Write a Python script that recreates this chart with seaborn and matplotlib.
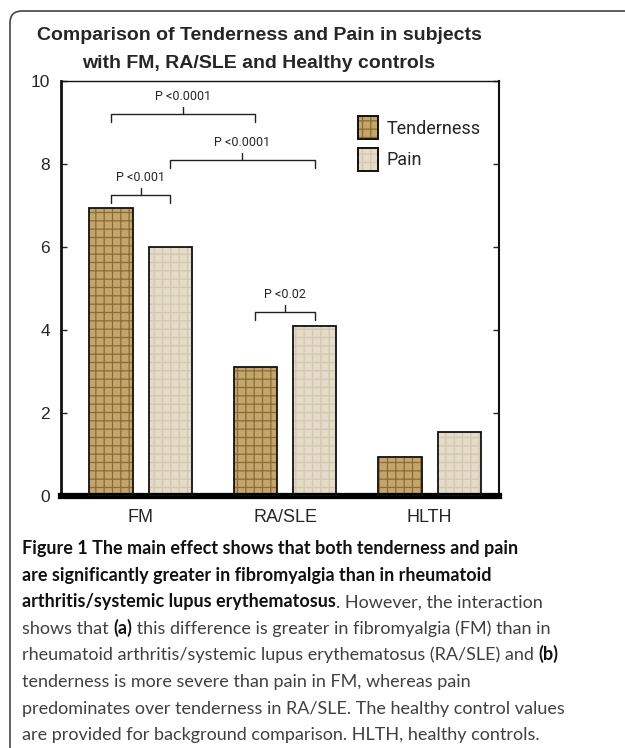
import numpy as np
import pandas as pd
import matplotlib
matplotlib.use("Agg")
import matplotlib.pyplot as plt
import seaborn as sns
from matplotlib import font_manager
from matplotlib.patches import Rectangle, Patch, PathPatch
from matplotlib.path import Path
from matplotlib.legend_handler import HandlerTuple
from matplotlib.transforms import IdentityTransform

# ---------------- data ----------------
categories = ["FM", "RA/SLE", "HLTH"]
measures = ["Tenderness", "Pain"]
tenderness = [6.95, 3.1, 0.95]
pain = [6.0, 4.1, 1.55]
y_ticks = [0, 2, 4, 6, 8, 10]

# significance brackets: (category a, measure a, category b, measure b, level, label)
brackets = [
    (0, 0, 1, 0, 9.2, "P <0.0001"),
    (0, 1, 1, 1, 8.1, "P <0.0001"),
    (0, 0, 0, 1, 7.25, "P <0.001"),
    (1, 0, 1, 1, 4.43, "P <0.02"),
]

title_lines = ["Comparison of Tenderness and Pain in subjects",
               "with FM, RA/SLE and Healthy controls"]

caption = [
    [("Figure 1 The main effect shows that both tenderness and pain", True)],
    [("are significantly greater in fibromyalgia than in rheumatoid", True)],
    [("arthritis/systemic lupus erythematosus", True), (". However, the interaction", False)],
    [("shows that ", False), ("(a)", True), (" this difference is greater in fibromyalgia (FM) than in", False)],
    [("rheumatoid arthritis/systemic lupus erythematosus (RA/SLE) and ", False), ("(b)", True)],
    [("tenderness is more severe than pain in FM, whereas pain", False)],
    [("predominates over tenderness in RA/SLE. The healthy control values", False)],
    [("are provided for background comparison. HLTH, healthy controls.", False)],
]

df = pd.DataFrame({
    "group": categories * 2,
    "measure": [measures[0]] * 3 + [measures[1]] * 3,
    "value": tenderness + pain,
})

# ---------------- style ----------------
sns.set_style("white")
plt.rcParams["font.family"] = ["Liberation Sans", "DejaVu Sans"]
plt.rcParams["hatch.linewidth"] = 0.9


def has_font(name):
    try:
        font_manager.findfont(font_manager.FontProperties(family=name), fallback_to_default=False)
        return True
    except Exception:
        return False


NARROW = ["Liberation Sans Narrow", "DejaVu Sans"] if has_font("Liberation Sans Narrow") \
    else ["Roboto", "DejaVu Sans"]
CAPFONT = ["Lato", "DejaVu Sans"]

face = {"Tenderness": "#c4a66a", "Pain": "#e4dbc8"}
hatchcol = {"Tenderness": "#8a6c38", "Pain": "#d3c7ad"}
hatches = {"Tenderness": "++", "Pain": "++"}

W, H = 625, 748
fig = plt.figure(figsize=(W / 100, H / 100), dpi=100)
fig.patch.set_facecolor("white")
ax = fig.add_axes([61 / W, 1 - 496 / H, (499 - 61) / W, (496 - 81) / H])

sns.barplot(data=df, x="group", y="value", hue="measure", order=categories,
            hue_order=measures, palette=face, width=0.82, gap=0.27,
            ax=ax, legend=False, saturation=1, linewidth=0)

for m, cont in zip(measures, ax.containers):
    for p in cont.patches:
        p.set_hatch(hatches[m])
        p.set_edgecolor(hatchcol[m])
        p.set_linewidth(0)
        ax.add_patch(Rectangle(p.get_xy(), p.get_width(), p.get_height(),
                               fill=False, edgecolor="#111111", linewidth=1.3, zorder=3))

ax.set_xlim(-0.55, 2.48)
ax.set_ylim(0, 10)
ax.set_yticks(y_ticks)
ax.set_yticklabels([str(v) for v in y_ticks], fontsize=12.5)
ax.set_xticks(range(len(categories)))
ax.set_xticklabels(categories, fontsize=13)
ax.set_xlabel("")
ax.set_ylabel("")
ax.tick_params(axis="x", length=0, pad=9)
ax.tick_params(axis="y", direction="in", length=4, width=1, right=True, left=True, pad=8)
for s in ["left", "right", "top"]:
    ax.spines[s].set_visible(True)
    ax.spines[s].set_color("#111111")
ax.spines["left"].set_linewidth(2.0)
ax.spines["right"].set_linewidth(1.5)
ax.spines["top"].set_linewidth(1.0)
ax.spines["bottom"].set_linewidth(4.5)
ax.spines["bottom"].set_color("black")


# brackets
def center(ci, mi):
    p = ax.containers[mi].patches[ci]
    return p.get_x() + p.get_width() / 2


for ca, ma, cb, mb, lvl, lab in brackets:
    x1, x2 = center(ca, ma), center(cb, mb)
    drop = 0.19
    ax.plot([x1, x1, x2, x2], [lvl - drop, lvl, lvl, lvl - drop], color="#222222", lw=1.0,
            solid_joinstyle="round")
    xm = (x1 + x2) / 2
    ax.plot([xm, xm], [lvl, lvl + 0.17], color="#222222", lw=1.0)
    ax.text(xm, lvl + 0.26, lab, ha="center", va="bottom", fontsize=9, family=NARROW)

# legend
handles = [(Patch(facecolor=face[m], hatch=hatches[m], edgecolor=hatchcol[m], linewidth=0),
            Patch(fill=False, edgecolor="#111111", linewidth=1.4)) for m in measures]
ax.legend(handles, measures, handler_map={tuple: HandlerTuple(ndivide=1)},
          loc="upper left", bbox_to_anchor=(0.678, 0.915), frameon=False,
          prop={"family": NARROW, "size": 13}, handlelength=1.1, handleheight=1.6,
          handletextpad=0.5, labelspacing=0.45, borderpad=0, borderaxespad=0)

# title
fig.text(259 / W, 1 - 35 / H, title_lines[0], ha="center", va="center",
         fontsize=14, fontweight="bold")
fig.text(259 / W, 1 - 63 / H, title_lines[1], ha="center", va="center",
         fontsize=14, fontweight="bold")

# figure frame (top + left, rounded top-left corner), pixel coordinates
r = 12
top = H - 11
frame = Path([(10, -5), (10, top - r), (10, top), (10 + r, top), (W + 5, top)],
             [Path.MOVETO, Path.LINETO, Path.CURVE3, Path.CURVE3, Path.LINETO])
fig.add_artist(PathPatch(frame, transform=IdentityTransform(), fill=False,
                         edgecolor="#444444", linewidth=1.2))

# caption
renderer = fig.canvas.get_renderer()
cap_size = 13.0


def seg_width(s, bold):
    kw = dict(fontsize=cap_size, family=CAPFONT, fontweight="bold" if bold else "normal")
    t1 = fig.text(0, 0, "|" + s + "|", **kw)
    t2 = fig.text(0, 0, "||", **kw)
    w = t1.get_window_extent(renderer).width - t2.get_window_extent(renderer).width
    t1.remove()
    t2.remove()
    return w


base0 = 554
step = 26.6
for i, line in enumerate(caption):
    x = 22
    yb = base0 + i * step
    for s, bold in line:
        fig.text(x / W, 1 - yb / H, s, ha="left", va="baseline", fontsize=cap_size,
                 family=CAPFONT, fontweight="bold" if bold else "normal",
                 color="#111111" if bold else "#404040")
        x += seg_width(s, bold)

fig.savefig("out.png", dpi=100)
